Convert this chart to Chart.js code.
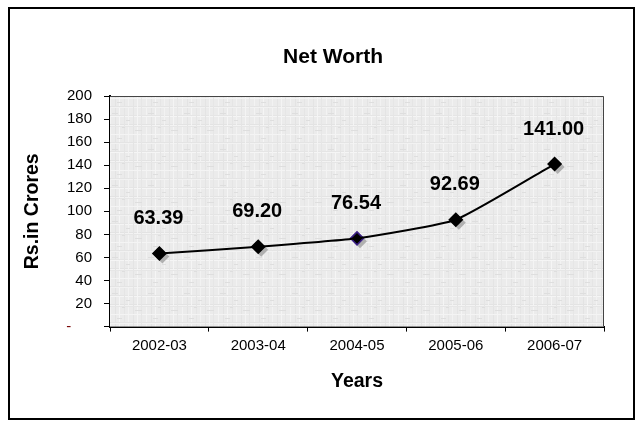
<!DOCTYPE html>
<html lang="en">
  <head>
    <meta charset="utf-8" />
    <script src="https://cdn.jsdelivr.net/npm/chart.js"></script>
    <title>Net Worth</title>
    <style>
      body { margin: 0; background: #fff; }
      #wrap { width: 636px; height: 427px; }
    </style>
  </head>
  <body>
    <div id="wrap">
      <canvas id="netWorthChart"></canvas>
    </div>
    <script>
      // values (Rs. in crores)
      const years = ["2002-03", "2003-04", "2004-05", "2005-06", "2006-07"];
      const netWorth = [63.39, 69.2, 76.54, 92.69, 141.0];
      const yTicks = [0, 20, 40, 60, 80, 100, 120, 140, 160, 180, 200];

      const font = "'Liberation Sans', Arial, sans-serif";

      // soft grey "granite" texture for the plot area
      function makeTexture(ctx) {
        const c = document.createElement("canvas");
        c.width = 36;
        c.height = 36;
        const g = c.getContext("2d");
        g.fillStyle = "#ebebeb";
        g.fillRect(0, 0, 36, 36);
        const cols = [[2, "#f3f3f3"], [7, "#e3e3e3"], [11, "#f5f5f5"], [16, "#e5e5e5"],
                      [20, "#f2f2f2"], [25, "#e4e4e4"], [29, "#f4f4f4"], [33, "#e6e6e6"]];
        for (let [p, col] of cols) {
          g.fillStyle = col;
          g.fillRect(p, 0, 1, 36);
          g.fillRect(0, (p * 7 + 3) % 36, 36, 1);
        }
        g.fillStyle = "#dedede";
        for (let [x, y, w] of [[4, 5, 6], [18, 12, 4], [27, 22, 7], [9, 30, 5], [14, 19, 3]]) {
          g.fillRect(x, y, w, 1);
        }
        return ctx.createPattern(c, "repeat");
      }

      const framePlugin = {
        id: "frame",
        beforeDraw(chart) {
          const ctx = chart.ctx;
          ctx.save();
          ctx.fillStyle = "#fff";
          ctx.fillRect(0, 0, chart.width, chart.height);
          ctx.strokeStyle = "#000";
          ctx.lineWidth = 2;
          ctx.strokeRect(9, 8, 625, 411);
          ctx.fillStyle = "#000";
          ctx.font = "bold 21px " + font;
          ctx.textAlign = "center";
          ctx.textBaseline = "middle";
          ctx.fillText("Net Worth", 333, 57);
          ctx.restore();
        },
        beforeDatasetsDraw(chart) {
          const { ctx, chartArea: a } = chart;
          ctx.save();
          ctx.fillStyle = makeTexture(ctx);
          ctx.fillRect(a.left, a.top, a.right - a.left, a.bottom - a.top);
          ctx.strokeStyle = "#444";
          ctx.lineWidth = 1;
          ctx.beginPath();
          ctx.moveTo(a.left, a.top + 0.5);
          ctx.lineTo(a.right - 0.5, a.top + 0.5);
          ctx.lineTo(a.right - 0.5, a.bottom);
          ctx.stroke();
          ctx.restore();
        },
        // grey drop shadow behind each diamond marker
        beforeDatasetDraw(chart, args) {
          if (args.index !== 1) return;
          const ctx = chart.ctx;
          const r = 7;
          ctx.save();
          ctx.fillStyle = "#b0b0b0";
          for (const pt of args.meta.data) {
            const x = pt.x + 3, y = pt.y + 3;
            ctx.beginPath();
            ctx.moveTo(x, y - r);
            ctx.lineTo(x + r, y);
            ctx.lineTo(x, y + r);
            ctx.lineTo(x - r, y);
            ctx.closePath();
            ctx.fill();
          }
          ctx.restore();
        },
        afterDatasetsDraw(chart) {
          const ctx = chart.ctx;
          const meta = chart.getDatasetMeta(1);
          ctx.save();
          ctx.fillStyle = "#000";
          ctx.font = "bold 20px " + font;
          ctx.textAlign = "center";
          ctx.textBaseline = "middle";
          meta.data.forEach((pt, i) => {
            ctx.fillText(netWorth[i].toFixed(2), pt.x - 1, pt.y - 35);
          });
          ctx.restore();
        },
      };

      new Chart(document.getElementById("netWorthChart"), {
        type: "line",
        data: {
          labels: years,
          datasets: [
            {
              data: netWorth,
              borderColor: "#000",
              borderWidth: 2,
              pointRadius: 0,
              tension: 0.15,
            },
            {
              data: netWorth,
              showLine: false,
              pointStyle: "rectRot",
              pointRadius: 6.5,
              pointBackgroundColor: "#000",
              pointBorderColor: ["#000", "#000", "#3b1f86", "#000", "#000"],
              pointBorderWidth: 1.5,
            },
          ],
        },
        options: {
          responsive: true,
          maintainAspectRatio: false,
          animation: false,
          layout: { padding: { left: 12, right: 32, top: 96, bottom: 30 } },
          plugins: {
            legend: { display: false },
            tooltip: { enabled: false },
            title: { display: false },
          },
          scales: {
            x: {
              offset: true,
              grid: {
                offset: true,
                drawOnChartArea: false,
                tickLength: 5,
                color: "#000",
              },
              border: { color: "#000", width: 2 },
              ticks: {
                color: "#000",
                padding: 5,
                maxRotation: 0,
                font: { family: font, size: 15 },
              },
              title: {
                display: true,
                text: "Years",
                color: "#000",
                font: { family: font, size: 19.5, weight: "bold" },
                padding: { top: 10, bottom: 4 },
              },
            },
            y: {
              min: 0,
              max: 200,
              afterBuildTicks(scale) {
                scale.ticks = yTicks.map((v) => ({ value: v }));
              },
              afterFit(scale) {
                scale.width = 98;
              },
              grid: {
                drawOnChartArea: false,
                tickLength: 6,
                color: "#000",
              },
              border: { color: "#000", width: 2 },
              ticks: {
                padding: 12,
                font: { family: font, size: 15 },
                color: (c) => (c.tick && c.tick.value === 0 ? "#7a0a0a" : "#000"),
                callback: (v) => (v === 0 ? "-     " : v),
              },
              title: {
                display: true,
                text: "Rs.in Crores",
                color: "#000",
                font: { family: font, size: 19.5, weight: "bold" },
                padding: { top: 9, bottom: 0 },
              },
            },
          },
        },
        plugins: [framePlugin],
      });
    </script>
  </body>
</html>
